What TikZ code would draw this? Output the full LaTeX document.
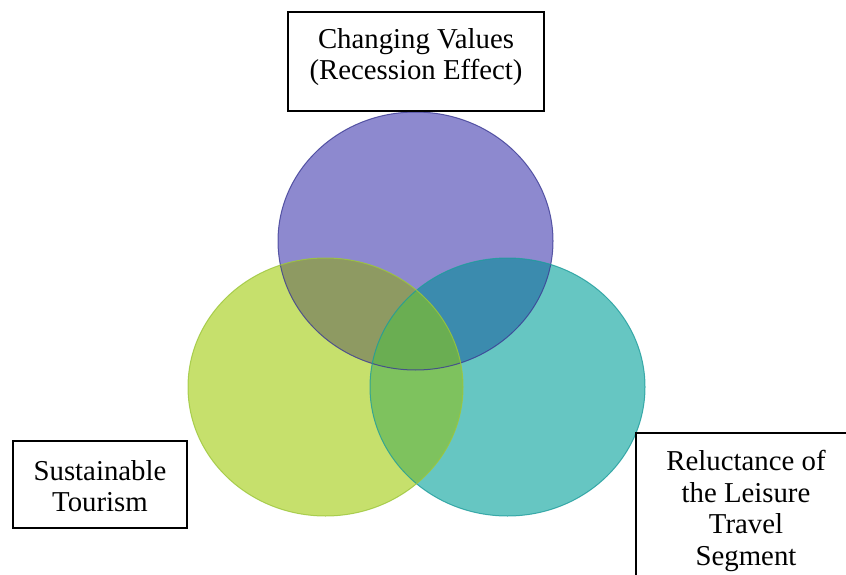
\documentclass[tikz,border=0pt]{standalone}
\usepackage{fontspec}
\usetikzlibrary{shapes.geometric}
\setmainfont{Liberation Serif}
\begin{document}
\begin{tikzpicture}[x=1pt,y=-1pt,
  lbl/.style={font=\fontsize{28.8}{31.5}\selectfont, align=center, inner sep=0pt},
  frame/.style={draw=black, line width=1.3pt, fill=white, inner sep=0pt},
  venn/.style={ellipse, minimum width=275pt, minimum height=258pt, inner sep=0pt}]
\useasboundingbox (0,0) rectangle (846,575);
\fill[white] (0,0) rectangle (846,575);
\definecolor{pfill}{HTML}{8D89CF}
\definecolor{pline}{HTML}{3B3A94}
\definecolor{gfill}{HTML}{C6E06C}
\definecolor{gline}{HTML}{9CC63A}
\definecolor{tfill}{HTML}{66C6C2}
\definecolor{tline}{HTML}{1E9C9C}
\definecolor{pgfillx}{HTML}{8E9A62}
\definecolor{ptfill}{HTML}{3B8BAE}
\definecolor{gtfill}{HTML}{7EC25E}
\definecolor{pgtfill}{HTML}{6AAE52}
\def\Pell{(415.5,241) ellipse [x radius=137.5, y radius=129]}
\def\Gell{(325.5,387) ellipse [x radius=137.5, y radius=129]}
\def\Tell{(507.5,387) ellipse [x radius=137.5, y radius=129]}
% circles (single regions)
\node[venn, fill=pfill] (pc) at (415.5,241) {};
\node[venn, fill=tfill] (tc) at (507.5,387) {};
\node[venn, fill=gfill] (gc) at (325.5,387) {};
% overlaps
\begin{scope}\clip \Pell; \fill[pgfillx] \Gell; \end{scope}
\begin{scope}\clip \Pell; \fill[ptfill] \Tell; \end{scope}
\begin{scope}\clip \Gell; \fill[gtfill] \Tell; \end{scope}
\begin{scope}\clip \Pell; \clip \Gell; \fill[pgtfill] \Tell; \end{scope}
% outlines
\draw[pline, line width=1pt, opacity=0.8] \Pell;
\draw[tline, line width=1pt, opacity=0.8] \Tell;
\draw[gline, line width=1pt, opacity=0.8] \Gell;
% boxes
\node[frame, minimum width=256pt, minimum height=99pt] (topbox) at (416,61.5) {};
\node[lbl] (top) at (416,57) {Changing Values\\(Recession Effect)};
\node[frame, minimum width=174pt, minimum height=87pt] (leftbox) at (100,484.5) {};
\node[lbl] (left) at (100,486) {Sustainable\\Tourism};
\node[frame, minimum width=234pt, minimum height=167pt] (rightbox) at (753,516.5) {};
\node[lbl] (right) at (746,511) {Reluctance of\\the Leisure\\Travel\\Segment};
\end{tikzpicture}
\end{document}
